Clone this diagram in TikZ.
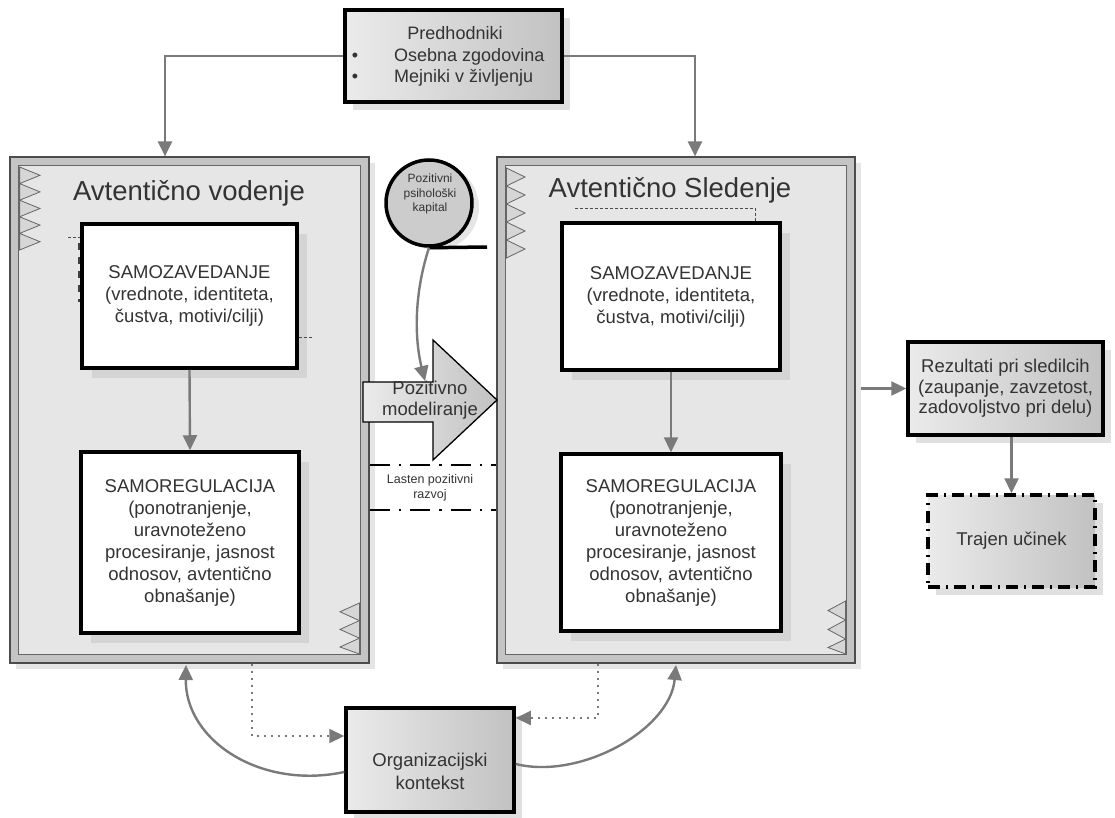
\documentclass[tikz,border=0pt]{standalone}
\usepackage{fontspec}
\setmainfont{Liberation Sans}
\usetikzlibrary{arrows.meta,shadows}

\definecolor{txt}{HTML}{333333}
\definecolor{conn}{HTML}{7A7A7A}
\definecolor{band}{HTML}{C4C4C4}
\definecolor{pane}{HTML}{E6E6E6}

\tikzset{
  every node/.style={text=txt},
  cbox/.style={draw=black!70, line width=1.2pt, fill=band, inner sep=0pt,
    drop shadow={shadow xshift=6pt, shadow yshift=-6pt, fill=black!10, opacity=1}},
  panebox/.style={draw=black!60, line width=0.8pt, fill=pane},
  ctitle/.style={font=\fontsize{27.5}{30}\selectfont},
  inbox/.style={draw=black, line width=3.5pt, fill=white, inner sep=0pt, align=center,
    font=\fontsize{18.5}{22}\selectfont,
    drop shadow={shadow xshift=10pt, shadow yshift=-10pt, fill=black!17, opacity=1}},
  gbox/.style={draw=black, line width=3.5pt, left color=black!8, right color=black!24,
    inner sep=0pt, align=center, font=\fontsize{18.5}{20.5}\selectfont,
    drop shadow={shadow xshift=8pt, shadow yshift=-8pt, fill=black!12, opacity=1}},
  tbox/.style={draw=black, line width=3.5pt, dash pattern=on 12pt off 6pt on 2pt off 6pt,
    left color=black!8, right color=black!24, inner sep=0pt, font=\fontsize{18.5}{22}\selectfont,
    drop shadow={shadow xshift=8pt, shadow yshift=-8pt, fill=black!12, opacity=1}},
  ptext/.style={font=\fontsize{18}{20}\selectfont, inner sep=0pt},
  smalltext/.style={font=\fontsize{12.5}{15}\selectfont, align=center, inner sep=0pt},
  zig/.style={draw=black!60, line width=0.8pt, fill=black!16},
  garrow/.style={draw=conn, line width=2.4pt, -{Triangle[length=15pt,width=14pt]}},
  darrow/.style={draw=conn, line width=2pt, dash pattern=on 2pt off 5pt,
    -{Triangle[length=15pt,width=14pt]}},
  ddline/.style={draw=black, line width=2.6pt, dash pattern=on 20pt off 9pt on 2.5pt off 9pt},
  fineline/.style={draw=black!70, line width=0.8pt, dash pattern=on 3pt off 2pt},
}

\begin{document}
\begin{tikzpicture}[x=1pt,y=-1pt]
\useasboundingbox (0,0) rectangle (1115,818);

% ---- the two framed panels -------------------------------------------
\node[cbox, minimum width=359pt, minimum height=506pt] (lc) at (189.5,410) {};
\draw[panebox] ([shift={(9,9)}]lc.north west) rectangle ([shift={(-9,-9)}]lc.south east);
\node[cbox, minimum width=358pt, minimum height=506pt] (rc) at (676,410) {};
\draw[panebox] ([shift={(9,9)}]rc.north west) rectangle ([shift={(-9,-9)}]rc.south east);

% saw-tooth marks on the panels
\draw[zig] (19.6,167) -- (40,175.3) -- (19.6,183.6) -- (40,191.9) -- (19.6,200.2) -- (40,208.5)
  -- (19.6,216.8) -- (40,225.1) -- (19.6,233.4) -- (40,241.7) -- (19.6,250) -- cycle;
\draw[zig] (359.4,603) -- (340,611.8) -- (359.4,620.6) -- (340,629.4) -- (359.4,638.2)
  -- (340,647) -- (359.4,654) -- cycle;
\draw[zig] (506.4,168) -- (525,177) -- (506.4,186) -- (525,195) -- (506.4,204) -- (525,213)
  -- (506.4,222) -- (525,231) -- (506.4,240) -- (525,249) -- (506.4,258) -- cycle;
\draw[zig] (845.6,601) -- (828,610.5) -- (845.6,620) -- (828,629.5) -- (845.6,639)
  -- (828,647.5) -- (845.6,654) -- cycle;

\node[ctitle] (lct) at (189,193) {Avtentično vodenje};
\node[ctitle] (rct) at (670,190) {Avtentično Sledenje};

% ---- inner boxes -------------------------------------------------------
\node[inbox, minimum width=215pt, minimum height=144pt] (sz1) at (189.5,296)
  {SAMOZAVEDANJE\\(vrednote, identiteta,\\čustva, motivi/cilji)};
\node[inbox, minimum width=218pt, minimum height=181pt] (sr1) at (190,542.5)
  {SAMOREGULACIJA\\(ponotranjenje,\\uravnoteženo\\procesiranje, jasnost\\odnosov, avtentično\\obnašanje)};
\node[inbox, minimum width=218pt, minimum height=147pt] (sz2) at (671,296.5)
  {SAMOZAVEDANJE\\(vrednote, identiteta,\\čustva, motivi/cilji)};
\node[inbox, minimum width=220pt, minimum height=177pt] (sr2) at (671,542.5)
  {SAMOREGULACIJA\\(ponotranjenje,\\uravnoteženo\\procesiranje, jasnost\\odnosov, avtentično\\obnašanje)};

\draw[garrow] (sz1.south) -- (sr1.north);
\draw[garrow] (sz2.south) -- (sr2.north);

% small dashed ticks around the first self-awareness box
\draw[fineline] (68,237) -- (sz1.north west |- 0,237);
\draw[draw=black!75, line width=2pt, dash pattern=on 7pt off 7pt] (79,243) -- (79,302);
\draw[fineline] (sz1.east |- 0,337) -- (313,337);
\draw[fineline] (575,208) -- (755,208) -- (sz2.north -| 755,0);

% ---- antecedents -------------------------------------------------------
\node[gbox, minimum width=217pt, minimum height=92pt] (pred) at (453.5,56) {};
\node[ptext] (pr1) at (455,33) {Predhodniki};
\node[ptext] (pb1) at (355,57) {•};
\node[ptext, anchor=west] (pr2) at (394,57) {Osebna zgodovina};
\node[ptext] (pb2) at (355,78) {•};
\node[ptext, anchor=west] (pr3) at (394,78) {Mejniki v življenju};

\draw[garrow] (pred.west) -| ([xshift=-24.5pt]lc.north);
\draw[garrow] (pred.east) -| ([xshift=19pt]rc.north);

% ---- positive psychological capital -------------------------------------
\node[circle, draw=black, line width=3.5pt, fill=black!20, minimum size=86pt, inner sep=0pt,
  drop shadow={shadow xshift=7pt, shadow yshift=-4pt, fill=black!10, opacity=1}] (ppk) at (429,203) {};
\node[smalltext, font=\fontsize{12}{14.5}\selectfont] (ppkt) at (430,194) {Pozitivni\\psihološki\\kapital};
\coordinate (tail) at (487,247);
\draw[line width=3.5pt] (ppk.south) -- (tail);

% ---- positive modelling block arrow -------------------------------------
\draw[draw=black, line width=1.3pt, left color=black!8, right color=black!24]
  (363,382) -- (433,382) -- (433,340) -- (497,400) -- (433,460) -- (433,422) -- (363,422) -- cycle;
\node[font=\fontsize{18.5}{21}\selectfont, align=center, inner sep=0pt] (pm) at (430,400)
  {Pozitivno\\modeliranje};
\coordinate (pmtop) at (425,381);
\draw[garrow] (ppk.south) .. controls (412,300) and (416,345) .. (pmtop);

% ---- own positive development ------------------------------------------
\draw[ddline] (lc.east |- 0,465) -- (rc.west |- 0,465);
\draw[ddline] (lc.east |- 0,510) -- (rc.west |- 0,510);
\node[smalltext] (lpr) at (430,488) {Lasten pozitivni\\razvoj};

% ---- outcomes ----------------------------------------------------------
\node[gbox, minimum width=195pt, minimum height=93pt] (rez) at (1005.5,388.5)
  {Rezultati pri sledilcih\\(zaupanje, zavzetost,\\zadovoljstvo pri delu)};
\node[tbox, minimum width=167pt, minimum height=92pt] (trj) at (1011.5,541) {Trajen učinek};

\draw[garrow] ([xshift=5pt]rc.east |- rez.west) -- (rez.west);
\draw[garrow] (trj.north |- rez.south) -- (trj.north);

% ---- organisational context --------------------------------------------
\node[gbox, minimum width=168pt, minimum height=104pt] (org) at (430,760) {};
\node[ptext, font=\fontsize{18.5}{23}\selectfont, align=center] (orgt) at (430,771.5)
  {Organizacijski\\kontekst};

\coordinate (lcb) at (186,665);
\coordinate (rcb) at (676,665);
\draw[garrow] ([yshift=-12pt]org.west) .. controls (260,790) and (185,740) .. (lcb);
\draw[garrow] ([yshift=-4pt]org.east) .. controls (580,780) and (670,730) .. (rcb);

\draw[darrow] ([xshift=62.5pt]lc.south) |- ([yshift=24pt]org.west);
\draw[darrow] ([xshift=-78pt]rc.south) |- ([yshift=42pt]org.east);
\end{tikzpicture}
\end{document}
